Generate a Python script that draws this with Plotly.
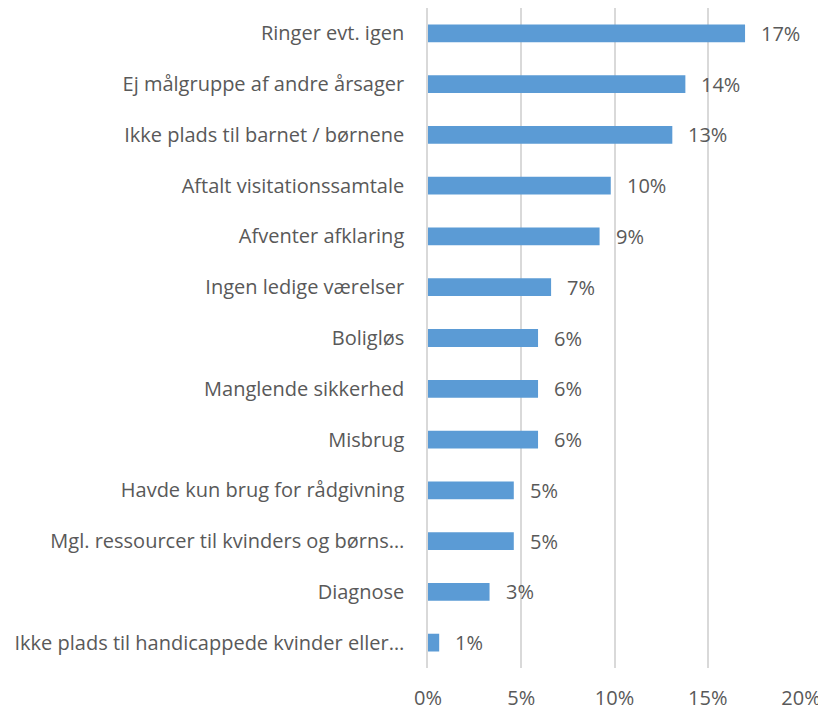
import plotly.graph_objects as go

categories = [
    "Ringer evt. igen",
    "Ej målgruppe af andre årsager",
    "Ikke plads til barnet / børnene",
    "Aftalt visitationssamtale",
    "Afventer afklaring",
    "Ingen ledige værelser",
    "Boligløs",
    "Manglende sikkerhed",
    "Misbrug",
    "Havde kun brug for rådgivning",
    "Mgl. ressourcer til kvinders og børns…",
    "Diagnose",
    "Ikke plads til handicappede kvinder eller…",
]
values = [0.170, 0.138, 0.131, 0.098, 0.092, 0.066, 0.059, 0.059, 0.059, 0.046, 0.046, 0.033, 0.006]
value_labels = ["17%", "14%", "13%", "10%", "9%", "7%", "6%", "6%", "6%", "5%", "5%", "3%", "1%"]
tick_vals = [0, 0.05, 0.10, 0.15, 0.20]
tick_text = ["0%", "5%", "10%", "15%", "20%"]

FONT = "Open Sans"
TEXT_COLOR = "#595959"

fig = go.Figure(go.Bar(
    y=categories,
    x=values,
    orientation="h",
    marker=dict(color="#5B9BD5", line=dict(width=0)),
    width=0.35,
))

for c, v, t in zip(categories, values, value_labels):
    fig.add_annotation(x=v, y=c, text=t, showarrow=False, xanchor="left",
                       xshift=14, yshift=0, font=dict(family=FONT, size=20, color=TEXT_COLOR))

# page body has an 8px margin; figure size/margins compensate for it
fig.update_layout(
    width=818, height=705,
    margin=dict(l=420, r=25, t=0, b=45, autoexpand=False),
    paper_bgcolor="white", plot_bgcolor="white",
    showlegend=False,
    font=dict(family=FONT, size=20, color=TEXT_COLOR),
)
fig.update_xaxes(range=[0, 0.20], tickvals=tick_vals, ticktext=tick_text,
                 showgrid=True, gridcolor="#D9D9D9", gridwidth=1.5,
                 zeroline=False, showline=False, ticks="",
                 automargin=False, ticklabelstandoff=16,
                 tickfont=dict(family=FONT, size=20, color=TEXT_COLOR))
fig.update_yaxes(autorange="reversed", showgrid=False, ticks="", ticklen=0,
                 showline=True, linecolor="#D9D9D9", linewidth=1.5,
                 automargin=False, ticklabelstandoff=18,
                 tickfont=dict(family=FONT, size=20, color=TEXT_COLOR))

fig.write_html("out.html")
